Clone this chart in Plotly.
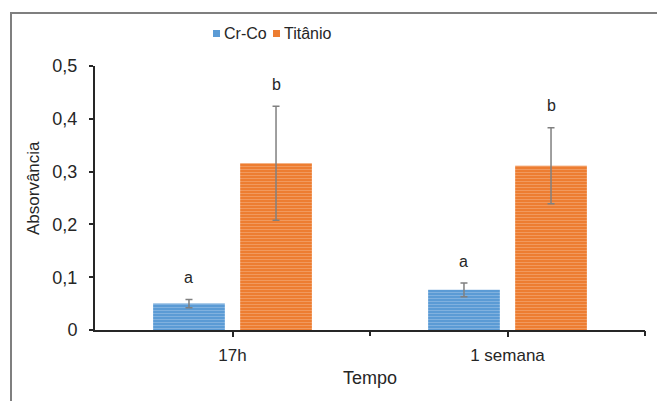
import plotly.graph_objects as go

# Absorbance by time and alloy
categories = ["17h", "1 semana"]
series_names = ["Cr-Co", "Titânio"]
crco_values = [0.050, 0.076]
crco_err = [0.008, 0.013]
ti_values = [0.316, 0.311]
ti_err = [0.108, 0.072]
crco_letters = ["a", "a"]
ti_letters = ["b", "b"]
y_ticks = [0, 0.1, 0.2, 0.3, 0.4, 0.5]
y_ticktext = ["0", "0,1", "0,2", "0,3", "0,4", "0,5"]

x_pos = list(range(len(categories)))

W, H = 657, 401
ML, MR, MT, MB = 95, 12, 66, 71
plot_w = W - ML - MR
plot_h = H - MT - MB


def px_x(px):
    return (px - ML) / plot_w


def px_y(py):
    return (H - MB - py) / plot_h


BLUE, BLUE_LT = "#5b9bd5", "#a6c8ea"
ORANGE, ORANGE_LT = "#ed7d31", "#f6b68a"
FONT = "Liberation Sans, Arial, sans-serif"
TXT = "#262626"

bargap = 0.367
bargroupgap = 0.176
offset = (1 - bargap) / 4  # half of one bar slot

fig = go.Figure()
series = [
    (series_names[0], crco_values, crco_err, BLUE, BLUE_LT),
    (series_names[1], ti_values, ti_err, ORANGE, ORANGE_LT),
]
for name, vals, errs, col, light in series:
    fig.add_trace(go.Bar(
        name=name, x=x_pos, y=vals, showlegend=False,
        marker=dict(color=col, line=dict(width=0),
                    pattern=dict(shape="-", size=3, solidity=0.35,
                                 fgcolor=light, bgcolor=col)),
        error_y=dict(type="data", array=errs, visible=True,
                     color="#808080", thickness=1.5, width=3.5),
    ))

# hidden trace so the boundary-tick axis is drawn
fig.add_trace(go.Scatter(x=[-0.5, len(categories) - 0.5], y=[0, 0],
                         xaxis="x2", mode="markers",
                         marker=dict(opacity=0), showlegend=False,
                         hoverinfo="skip"))

annotations = []
shapes = []
for i in x_pos:
    for letters, vals, errs, sign in ((crco_letters, crco_values, crco_err, -1),
                                      (ti_letters, ti_values, ti_err, 1)):
        annotations.append(dict(
            x=i + sign * offset, y=vals[i] + errs[i], xref="x", yref="y",
            text=letters[i], showarrow=False, yanchor="middle", yshift=22,
            font=dict(family=FONT, size=16, color=TXT)))

# axis titles
annotations.append(dict(x=px_x(33), y=px_y(188), xref="paper", yref="paper",
                        text="Absorvância", textangle=-90, showarrow=False,
                        xanchor="center", yanchor="middle",
                        font=dict(family=FONT, size=17, color=TXT)))
annotations.append(dict(x=0.5, y=px_y(378), xref="paper", yref="paper",
                        text="Tempo", showarrow=False,
                        xanchor="center", yanchor="middle",
                        font=dict(family=FONT, size=18, color=TXT)))

# legend: small colour keys followed by series names
legend_items = [(series_names[0], BLUE, 213), (series_names[1], ORANGE, 273)]
for name, col, x0 in legend_items:
    shapes.append(dict(type="rect", xref="paper", yref="paper",
                       x0=px_x(x0), x1=px_x(x0 + 7),
                       y0=px_y(37), y1=px_y(30),
                       fillcolor=col, line=dict(width=0)))
    annotations.append(dict(x=px_x(x0 + 9), y=px_y(33), xref="paper",
                            yref="paper", text=name, showarrow=False,
                            xanchor="left", yanchor="middle",
                            font=dict(family=FONT, size=16, color=TXT)))

# outer frame
shapes.append(dict(type="rect", xref="paper", yref="paper",
                   x0=px_x(11), x1=1.1, y0=-0.5, y1=px_y(13),
                   line=dict(color="#7f7f7f", width=2), layer="below"))

fig.update_layout(
    width=W, height=H,
    margin=dict(l=ML, r=MR, t=MT, b=MB),
    paper_bgcolor="white", plot_bgcolor="white",
    barmode="group", bargap=bargap, bargroupgap=bargroupgap,
    font=dict(family=FONT, size=17, color=TXT),
    showlegend=False,
    xaxis=dict(range=[-0.5, len(categories) - 0.5], tickvals=x_pos,
               ticktext=categories, showline=True, linecolor=TXT,
               linewidth=2, ticks="outside", ticklen=5, tickwidth=1.5,
               tickcolor=TXT, showgrid=False, zeroline=False,
               ticklabelstandoff=4,
               tickfont=dict(family=FONT, size=17, color=TXT)),
    xaxis2=dict(range=[-0.5, len(categories) - 0.5], overlaying="x",
                anchor="y", side="bottom",
                tickvals=[i + 0.5 for i in x_pos], showticklabels=False,
                ticks="outside", ticklen=5, tickwidth=1.5,
                tickcolor=TXT, showline=False, showgrid=False,
                zeroline=False),
    yaxis=dict(range=[0, 0.5], tickvals=y_ticks, ticktext=y_ticktext,
               showline=True, linecolor=TXT, linewidth=2,
               ticks="outside", ticklen=4, tickwidth=1.5,
               tickcolor=TXT, showgrid=False, zeroline=False,
               ticklabelstandoff=8,
               tickfont=dict(family=FONT, size=18, color=TXT)),
    annotations=annotations,
    shapes=shapes,
)

fig.write_html("out.html")
